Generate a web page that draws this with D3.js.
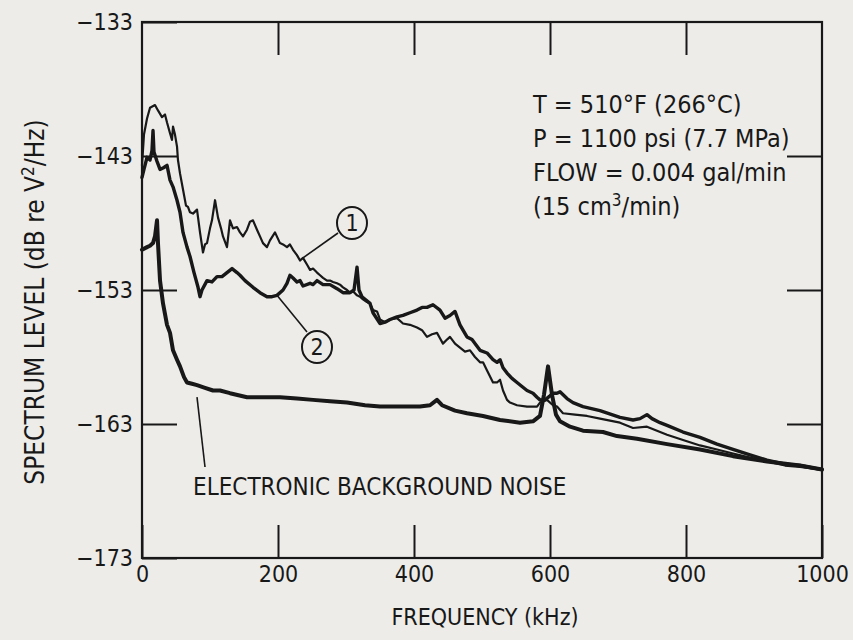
<!DOCTYPE html>
<html>
<head>
<meta charset="utf-8">
<script src="https://cdn.jsdelivr.net/npm/d3@7/dist/d3.min.js"></script>
<style>
  html, body { margin: 0; padding: 0; background: #edece9; }
  svg { display: block; }
  text { font-family: "Liberation Sans Narrow", "DejaVu Sans Condensed", sans-serif; fill: #181818; }
</style>
</head>
<body>
<svg id="chart" width="853" height="640"></svg>
<script>
// Axis ticks
const freqTicks = [0, 200, 400, 600, 800, 1000];
const levelTicks = [-133, -143, -153, -163, -173];

// Spectrum 1: [frequency kHz, level dB re V^2/Hz]
const spectrum1 = [
  [0,-143.7],[2.9,-141.4],[7.4,-140.2],[11.8,-139.4],[19.1,-139.2],[23.5,-139.6],[29.4,-140.1],
  [33.8,-139.9],[36.8,-140.5],[41.2,-141.3],[44.1,-141.8],[45.6,-140.8],[48.5,-141.4],[51.5,-142.3],
  [52.9,-143.3],[55.9,-144.3],[60.3,-145.5],[64.7,-146.7],[67.6,-146.8],[70.6,-147.2],[75.0,-147.3],
  [80.9,-147.0],[85.3,-148.7],[89.7,-150.2],[92.6,-149.6],[95.6,-149.5],[100.0,-148.4],[102.9,-147.8],
  [107.4,-146.3],[111.8,-147.6],[116.2,-148.4],[119.1,-149.0],[125.0,-149.8],[129.4,-147.8],[133.8,-148.4],
  [139.7,-148.3],[144.1,-148.7],[148.5,-149.0],[154.4,-148.5],[158.8,-147.9],[163.2,-147.8],[169.1,-148.5],
  [173.5,-149.0],[177.9,-149.5],[183.8,-149.8],[188.2,-149.3],[195.6,-148.7],[202.9,-149.5],[207.4,-149.6],
  [213.2,-149.8],[217.6,-149.6],[222.1,-150.0],[227.9,-150.4],[232.4,-150.8],[236.8,-150.6],[242.6,-151.1],
  [247.1,-151.5],[251.5,-151.4],[257.4,-151.7],[261.8,-151.9],[266.2,-152.1],[272.1,-152.3],[276.5,-152.3],
  [280.9,-152.4],[286.8,-152.5],[291.2,-152.6],[295.6,-152.8],[301.5,-153.0],[305.9,-153.2],[310.3,-153.1],
  [316.2,-153.4],[320.6,-153.5],[325.0,-153.7],[330.9,-153.9],[335.3,-154.0],[339.7,-154.5],[345.6,-154.6],
  [350.0,-155.2],[357.4,-155.4],[364.7,-155.2],[375.0,-155.1],[383.8,-155.5],[394.1,-155.6],[404.4,-155.8],
  [411.8,-156.0],[419.1,-156.5],[426.5,-156.3],[433.8,-156.2],[438.2,-156.6],[442.6,-157.0],[448.5,-156.7],
  [452.9,-156.5],[460.3,-157.0],[467.6,-157.3],[475.0,-157.6],[482.4,-157.5],[489.7,-158.0],[497.1,-158.4],
  [501.5,-158.4],[507.4,-159.0],[516.2,-159.9],[522.1,-159.9],[526.5,-159.7],[530.9,-160.5],[536.8,-161.2],
  [541.2,-161.4],[551.5,-161.6],[566.2,-161.7],[575.0,-161.7],[580.9,-161.7],[585.3,-161.4],[595.6,-161.2],
  [604.4,-161.6],[610.3,-161.7],[619.1,-162.2],[636.8,-162.3],[654.4,-162.4],[673.5,-162.6],[702.9,-162.9],
  [722.1,-163.3],[742.6,-163.2],[772.1,-163.8],[795.6,-164.2],[820.6,-164.6],[845.6,-164.9],[869.1,-165.2],
  [894.1,-165.5],[919.1,-165.8],[945.6,-166.1],[967.6,-166.2],[1000,-166.4]
];

// Spectrum 2
const spectrum2 = [
  [0,-144.6],[2.9,-144.0],[7.4,-143.1],[11.8,-143.3],[14.7,-142.6],[16.2,-141.1],[17.6,-142.7],
  [22.1,-143.4],[26.5,-144.0],[30.9,-143.9],[33.8,-143.8],[36.8,-143.7],[41.2,-144.8],[45.6,-145.3],
  [51.5,-146.3],[55.9,-147.2],[60.3,-148.7],[66.2,-149.8],[70.6,-150.5],[76.5,-151.7],[82.4,-152.8],
  [85.3,-153.5],[88.2,-153.0],[95.6,-152.3],[102.9,-152.4],[110.3,-152.0],[117.6,-152.0],[125.0,-151.7],
  [132.4,-151.4],[139.7,-151.7],[144.1,-151.9],[151.5,-152.3],[163.2,-152.8],[173.5,-153.2],[183.8,-153.5],
  [191.2,-153.5],[198.5,-153.4],[207.4,-153.0],[213.2,-152.5],[217.6,-151.9],[222.1,-152.1],[227.9,-152.4],
  [232.4,-152.3],[236.8,-152.7],[247.1,-152.5],[251.5,-152.6],[257.4,-152.3],[266.2,-152.6],[276.5,-152.6],
  [286.8,-152.9],[295.6,-153.2],[305.9,-153.2],[311.8,-153.0],[316.2,-151.3],[319.1,-153.0],[323.5,-153.5],
  [335.3,-154.0],[339.7,-154.7],[350.0,-155.5],[357.4,-155.4],[364.7,-155.2],[375.0,-155.0],[383.8,-154.9],
  [394.1,-154.7],[404.4,-154.5],[411.8,-154.3],[419.1,-154.3],[427.9,-154.1],[438.2,-154.5],[445.6,-155.1],
  [452.9,-154.9],[460.3,-154.6],[467.6,-155.6],[472.1,-156.0],[477.9,-156.5],[485.3,-156.7],[497.1,-157.5],
  [507.4,-157.7],[516.2,-158.2],[522.1,-158.4],[526.5,-158.2],[530.9,-158.8],[536.8,-159.2],[544.1,-159.6],
  [551.5,-159.9],[558.8,-160.2],[566.2,-160.5],[575.0,-160.7],[580.9,-161.0],[585.3,-161.2],[592.6,-161.2],
  [600.0,-160.9],[604.4,-160.7],[610.3,-160.7],[614.7,-160.6],[625.0,-161.1],[633.8,-161.4],[648.5,-161.7],
  [673.5,-162.0],[702.9,-162.5],[722.1,-162.7],[732.4,-162.6],[742.6,-162.3],[750.0,-162.6],[761.8,-162.9],
  [772.1,-163.1],[795.6,-163.6],[820.6,-164.0],[845.6,-164.5],[869.1,-164.9],[894.1,-165.3],[919.1,-165.7],
  [945.6,-166.0],[967.6,-166.1],[1000,-166.4]
];

// Electronic background noise
const backgroundNoise = [
  [0,-150.0],[7.4,-149.8],[11.8,-149.7],[16.2,-149.5],[19.1,-149.0],[22.1,-147.8],[23.5,-149.5],
  [26.5,-152.3],[30.9,-154.0],[36.8,-155.6],[41.2,-156.2],[45.6,-157.5],[51.5,-158.2],[55.9,-158.7],
  [61.8,-159.5],[66.2,-159.9],[73.5,-160.0],[80.9,-160.1],[92.6,-160.3],[104.4,-160.5],[114.7,-160.5],
  [129.4,-160.7],[154.4,-161.0],[180.9,-161.0],[202.9,-161.0],[227.9,-161.1],[251.5,-161.2],[276.5,-161.3],
  [301.5,-161.4],[327.9,-161.6],[350.0,-161.7],[379.4,-161.7],[408.8,-161.7],[423.5,-161.6],[433.8,-161.2],
  [441.2,-161.6],[460.3,-162.0],[477.9,-162.2],[501.5,-162.4],[526.5,-162.7],[555.9,-162.9],[575.0,-162.8],
  [585.3,-162.4],[591.2,-160.8],[597.1,-158.7],[602.9,-160.8],[608.8,-162.3],[614.7,-162.8],[629.4,-163.2],
  [648.5,-163.5],[677.9,-163.6],[698.5,-163.9],[727.9,-164.1],[772.1,-164.5],[820.6,-164.9],[869.1,-165.4],
  [919.1,-165.8],[967.6,-166.1],[1000,-166.4]
];

const conditions = [
  ["T = 510°F (266°C)"],
  ["P = 1100 psi (7.7 MPa)"],
  ["FLOW = 0.004 gal/min"],
  ["(15 cm", "3", "/min)"]
];

const ink = "#181818";
const svg = d3.select("#chart");
const plot = { left: 142, right: 822, top: 22, bottom: 558 };

const x = d3.scaleLinear().domain([0, 1000]).range([plot.left, plot.right]);
const y = d3.scaleLinear().domain([-173, -133]).range([plot.bottom, plot.top]);

// Frame
svg.append("rect")
  .attr("x", plot.left).attr("y", plot.top)
  .attr("width", plot.right - plot.left).attr("height", plot.bottom - plot.top)
  .attr("fill", "none").attr("stroke", ink).attr("stroke-width", 2.2);

const fmt = d => d < 0 ? "\u2212" + Math.abs(d) : String(d);
const styleAxis = g => {
  g.select(".domain").remove();
  g.selectAll(".tick line").attr("stroke", ink).attr("stroke-width", 2);
  g.selectAll(".tick text").attr("font-size", 23).attr("fill", ink);
};

// Bottom axis: inward ticks with labels
svg.append("g").attr("transform", `translate(0,${plot.bottom})`)
  .call(d3.axisBottom(x).tickValues(freqTicks).tickSize(-33).tickPadding(8).tickFormat(fmt))
  .call(styleAxis);
// Top axis: inward ticks only
svg.append("g").attr("transform", `translate(0,${plot.top})`)
  .call(d3.axisTop(x).tickValues(freqTicks.slice(1, -1)).tickSize(-33).tickFormat(""))
  .call(styleAxis);
// Left axis
svg.append("g").attr("transform", `translate(${plot.left},0)`)
  .call(d3.axisLeft(y).tickValues(levelTicks).tickSize(-35).tickPadding(9).tickFormat(fmt))
  .call(styleAxis);
// Right axis: inward ticks only
svg.append("g").attr("transform", `translate(${plot.right},0)`)
  .call(d3.axisRight(y).tickValues(levelTicks.slice(1, -1)).tickSize(-35).tickFormat(""))
  .call(styleAxis);

// Axis titles
svg.append("text")
  .attr("x", (plot.left + plot.right) / 2 + 3).attr("y", 625)
  .attr("text-anchor", "middle").attr("font-size", 23)
  .text("FREQUENCY (kHz)");

const yTitle = svg.append("text")
  .attr("transform", `translate(44,${(plot.top + plot.bottom) / 2 + 12}) rotate(-90)`)
  .attr("text-anchor", "middle").attr("font-size", 26);
yTitle.append("tspan").text("SPECTRUM LEVEL (dB re V");
yTitle.append("tspan").attr("font-size", 17).attr("dy", -10).text("2");
yTitle.append("tspan").attr("dy", 10).text("/Hz)");

// Spectra
const line = d3.line().x(d => x(d[0])).y(d => y(d[1]));
const traces = [
  { data: backgroundNoise, width: 4.0 },
  { data: spectrum2, width: 3.4 },
  { data: spectrum1, width: 2.2 }
];
svg.append("g").selectAll("path").data(traces).join("path")
  .attr("d", d => line(d.data))
  .attr("fill", "none").attr("stroke", ink)
  .attr("stroke-width", d => d.width)
  .attr("stroke-linejoin", "round").attr("stroke-linecap", "round");

// Test conditions
const cond = svg.append("text").attr("font-size", 25);
conditions.forEach((parts, i) => {
  cond.append("tspan").attr("x", 533).attr("y", 113 + i * 34).text(parts[0]);
  if (parts.length > 1) {
    cond.append("tspan").attr("font-size", 17).attr("dy", -9).text(parts[1]);
    cond.append("tspan").attr("dy", 9).text(parts[2]);
  }
});

// Curve callouts
const callouts = [
  { label: "1", cx: 352, cy: 223, from: [338, 233], to: [x(236.8), y(-150.6)] },
  { label: "2", cx: 317, cy: 347, from: [307, 332], to: [x(198.5), y(-153.4)] }
];
const cg = svg.append("g");
callouts.forEach(c => {
  cg.append("line").attr("x1", c.from[0]).attr("y1", c.from[1]).attr("x2", c.to[0]).attr("y2", c.to[1])
    .attr("stroke", ink).attr("stroke-width", 1.6);
  cg.append("ellipse").attr("cx", c.cx).attr("cy", c.cy).attr("rx", 15).attr("ry", 16)
    .attr("fill", "none").attr("stroke", ink).attr("stroke-width", 2);
  cg.append("text").attr("x", c.cx).attr("y", c.cy + 8).attr("text-anchor", "middle")
    .attr("font-size", 23).text(c.label);
});

// Background noise label
svg.append("line").attr("x1", 205).attr("y1", 467).attr("x2", x(80.9)).attr("y2", y(-160.1) + 12)
  .attr("stroke", ink).attr("stroke-width", 1.6);
svg.append("text").attr("x", 193).attr("y", 495).attr("font-size", 24)
  .text("ELECTRONIC BACKGROUND NOISE");
</script>
</body>
</html>
